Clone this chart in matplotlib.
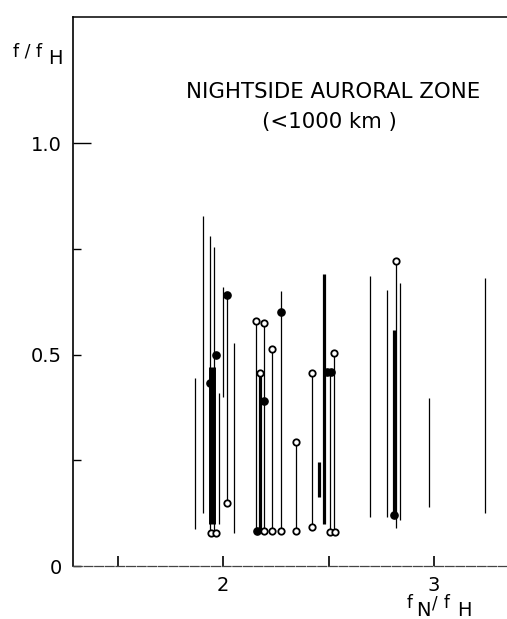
import matplotlib

matplotlib.use("Agg")
import matplotlib.pyplot as plt

# f_N/f_H position and f/f_H extent of each thin observed band
thin_x = [1.867, 1.905, 1.938, 1.957, 1.981, 2.000, 2.017, 2.052,
          2.158, 2.175, 2.196, 2.232, 2.275, 2.346,
          2.420, 2.505, 2.528,
          2.697, 2.777, 2.818, 2.839, 2.976, 3.242]
thin_lo = [0.087, 0.125, 0.085, 0.080, 0.100, 0.400, 0.148, 0.078,
           0.083, 0.083, 0.083, 0.083, 0.083, 0.083,
           0.093, 0.081, 0.081,
           0.116, 0.116, 0.090, 0.109, 0.140, 0.125]
thin_hi = [0.444, 0.827, 0.780, 0.754, 0.410, 0.659, 0.641, 0.528,
           0.580, 0.456, 0.575, 0.513, 0.650, 0.293,
           0.456, 0.458, 0.503,
           0.686, 0.652, 0.720, 0.670, 0.397, 0.680]

# denser (heavier) bands
thick_x = [2.175, 2.455, 2.479, 2.812]
thick_lo = [0.083, 0.163, 0.100, 0.120]
thick_hi = [0.456, 0.246, 0.690, 0.558]

# the very dense band near f_N/f_H = 2
bar_x = [1.948]
bar_lo = [0.100]
bar_hi = [0.470]

# circle markers
open_x = [1.942, 1.965, 2.017, 2.156, 2.175, 2.194, 2.232, 2.346,
          2.196, 2.232, 2.275, 2.346, 2.420, 2.420, 2.507, 2.531,
          2.528, 2.820]
open_y = [0.079, 0.079, 0.148, 0.580, 0.456, 0.575, 0.513, 0.293,
          0.083, 0.083, 0.083, 0.083, 0.456, 0.093, 0.081, 0.081,
          0.503, 0.720]
filled_x = [1.938, 1.965, 2.017, 2.194, 2.275, 2.160, 2.494, 2.510, 2.810]
filled_y = [0.433, 0.500, 0.641, 0.390, 0.600, 0.083, 0.458, 0.458, 0.120]

y_ticks = [0.0, 0.25, 0.5, 0.75, 1.0]
y_tick_labels = ["0", "", "0.5", "", "1.0"]
x_ticks = [1.5, 2.0, 2.5, 3.0]
x_tick_labels = ["", "2", "", "3"]

W, H = 507, 619
fig = plt.figure(figsize=(W / 100, H / 100), dpi=100)
ax = fig.add_axes([73 / W, 53 / H, 434 / W, 549 / H])

ax.vlines(thin_x, thin_lo, thin_hi, color="black", linewidth=0.9)
ax.vlines(thick_x, thick_lo, thick_hi, color="black", linewidth=2.3)
ax.vlines(bar_x, bar_lo, bar_hi, color="black", linewidth=5.0)
ax.plot(open_x, open_y, "o", ms=4.6, mfc="white", mec="black", mew=1.3, zorder=4)
ax.plot(filled_x, filled_y, "o", ms=5.2, mfc="black", mec="black", zorder=4)

ax.set_xlim(1.289, 3.346)
ax.set_ylim(0, 1.298)

ax.spines["right"].set_visible(False)
ax.spines["left"].set_linewidth(1.2)
ax.spines["top"].set_linewidth(1.1)
ax.spines["bottom"].set_linewidth(0.9)
ax.spines["bottom"].set_color("#444444")
ax.spines["bottom"].set_linestyle((0, (7, 1.5)))

ax.set_yticks(y_ticks)
ax.set_yticklabels(y_tick_labels)
ax.set_xticks(x_ticks)
ax.set_xticklabels(x_tick_labels)
ax.tick_params(axis="y", direction="in", length=6, width=1.0, pad=8, labelsize=14)
ax.tick_params(axis="x", direction="in", length=7, width=1.2, pad=7, labelsize=14)
ax.yaxis.get_major_ticks()[-1].tick1line.set_markersize(13)

fig.text(333 / W, 1 - 92 / H, "NIGHTSIDE AURORAL ZONE", ha="center", va="center", fontsize=15.3)
fig.text(329 / W, 1 - 122 / H, "(<1000 km )", ha="center", va="center", fontsize=15.3)

# axis labels, with full-size subscripts as in the original
fig.text(13 / W, 1 - 52 / H, "f / f", ha="left", va="center", fontsize=12.5)
fig.text(48 / W, 1 - 59 / H, "H", ha="left", va="center", fontsize=14)
fig.text(407 / W, 1 - 603 / H, "f", ha="left", va="center", fontsize=12)
fig.text(416 / W, 1 - 611 / H, "N", ha="left", va="center", fontsize=14)
fig.text(432 / W, 1 - 604 / H, "/", ha="left", va="center", fontsize=12)
fig.text(444 / W, 1 - 603 / H, "f", ha="left", va="center", fontsize=12)
fig.text(457 / W, 1 - 611 / H, "H", ha="left", va="center", fontsize=14)

fig.savefig("out.png", dpi=100)
